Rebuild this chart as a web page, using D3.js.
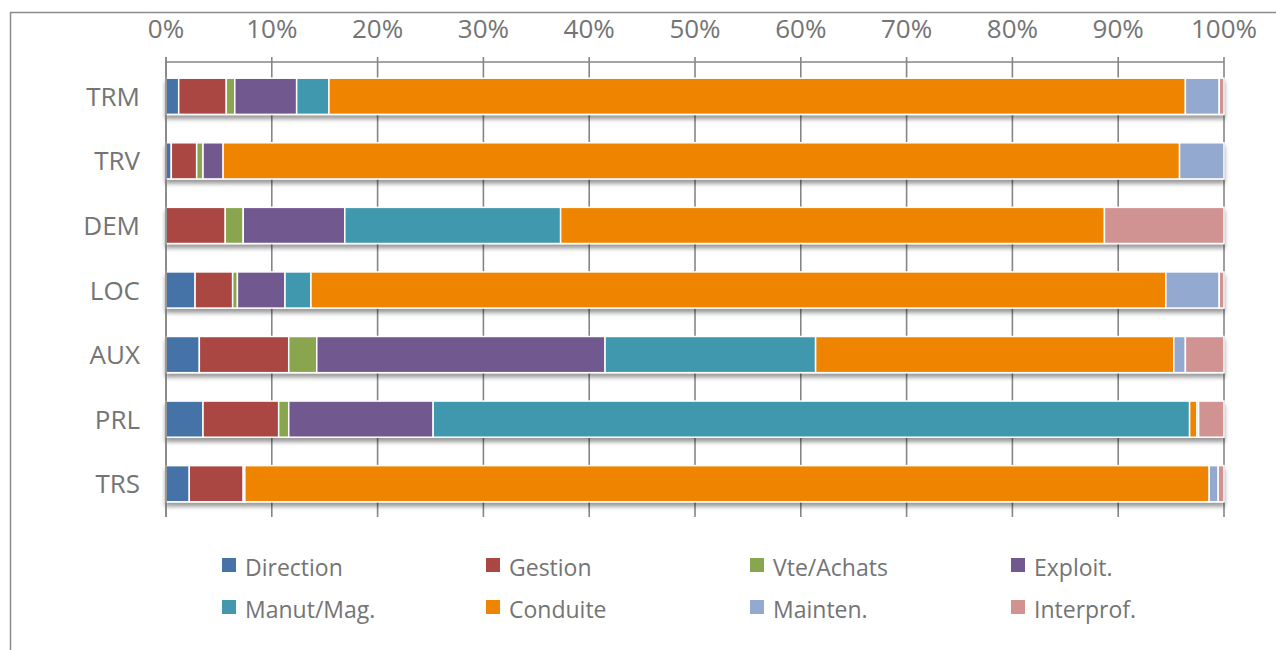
<!DOCTYPE html>
<html>
<head>
<meta charset="utf-8">
<script src="https://cdn.jsdelivr.net/npm/d3@7"></script>
<style>
  html, body { margin: 0; padding: 0; background: #fff; }
  svg { display: block; }
  text { font-family: "Open Sans", sans-serif; fill: #747474; }
</style>
</head>
<body>
<svg id="chart" width="1276" height="650"></svg>
<script>
const categories = ["TRM", "TRV", "DEM", "LOC", "AUX", "PRL", "TRS"];
const seriesNames = ["Direction", "Gestion", "Vte/Achats", "Exploit.", "Manut/Mag.", "Conduite", "Mainten.", "Interprof."];
const direction = [1.2, 0.5, 0.0, 2.75, 3.15, 3.5, 2.2];
const gestion   = [4.5, 2.4, 5.6, 3.55, 8.45, 7.15, 5.1];
const vteAchats = [0.8, 0.6, 1.7, 0.45, 2.65, 0.95, 0.15];
const exploit   = [5.85, 1.9, 9.6, 4.5, 27.25, 13.65, 0.0];
const manutMag  = [3.05, 0.0, 20.4, 2.45, 19.9, 71.5, 0.0];
const conduite  = [80.95, 90.4, 51.4, 80.8, 33.85, 0.7, 91.15];
const mainten   = [3.2, 4.2, 0.0, 5.05, 1.1, 0.15, 0.85];
const interprof = [0.45, 0.0, 11.3, 0.45, 3.65, 2.4, 0.55];
const tickValues = [0, 10, 20, 30, 40, 50, 60, 70, 80, 90, 100];
const colors = ["#4572A7", "#AA4643", "#89A54E", "#71588F", "#4198AF", "#EF8401", "#93A9CF", "#D19392"];

const seriesArrays = [direction, gestion, vteAchats, exploit, manutMag, conduite, mainten, interprof];
const rows = categories.map((c, i) => {
  const r = { cat: c };
  seriesNames.forEach((s, j) => r[s] = seriesArrays[j][i]);
  return r;
});

const svg = d3.select("#chart");

const defs = svg.append("defs");
const f = defs.append("filter").attr("id", "shadow")
  .attr("x", "-5%").attr("y", "-20%").attr("width", "110%").attr("height", "160%");
f.append("feDropShadow").attr("dx", 0).attr("dy", 4).attr("stdDeviation", 2.2)
  .attr("flood-color", "#000").attr("flood-opacity", 0.4);

svg.append("rect").attr("x", 10.5).attr("y", 12.5).attr("width", 1400).attr("height", 800)
  .attr("fill", "none").attr("stroke", "#8c8c8c").attr("stroke-width", 1.5);

const x = d3.scaleLinear().domain([0, 100]).range([166, 1224]);
const y = d3.scaleBand().domain(categories).range([64, 516]).paddingInner(0.44).paddingOuter(0.22);

svg.append("g").selectAll("line").data(tickValues).join("line")
  .attr("x1", d => x(d)).attr("x2", d => x(d))
  .attr("y1", 57).attr("y2", 517)
  .attr("stroke", "#868686").attr("stroke-width", 1.6);

svg.append("line").attr("x1", x(0)).attr("x2", x(100)).attr("y1", 62).attr("y2", 62)
  .attr("stroke", "#868686").attr("stroke-width", 1.6);

svg.append("g").selectAll("text").data(tickValues).join("text")
  .attr("x", d => x(d)).attr("y", 38)
  .attr("text-anchor", "middle")
  .style("font-size", "26px")
  .text(d => d + "%");

const stack = d3.stack().keys(seriesNames);
const layers = stack(rows);

const barsG = svg.append("g");
categories.forEach((c, ci) => {
  const g = barsG.append("g").attr("filter", "url(#shadow)");
  layers.forEach((layer, li) => {
    const d = layer[ci];
    const w = x(d[1]) - x(d[0]);
    if (w <= 0) return;
    g.append("rect")
      .attr("x", x(d[0])).attr("y", y(c))
      .attr("width", w).attr("height", y.bandwidth())
      .attr("fill", colors[li])
      .attr("stroke", "#fff").attr("stroke-width", 1.5);
  });
});

svg.append("line").attr("x1", x(0)).attr("x2", x(0)).attr("y1", 57).attr("y2", 517)
  .attr("stroke", "#868686").attr("stroke-width", 1.6);

svg.append("g").selectAll("text").data(categories).join("text")
  .attr("x", 140).attr("y", d => y(d) + y.bandwidth() / 2 + 9.5)
  .attr("text-anchor", "end")
  .style("font-size", "26px")
  .text(d => d);

const legX = [222, 486, 750, 1011];
const legY = [558, 600];
const leg = svg.append("g").selectAll("g").data(seriesNames).join("g")
  .attr("transform", (d, i) => `translate(${legX[i % 4]},${legY[Math.floor(i / 4)]})`);
leg.append("rect").attr("width", 14).attr("height", 14)
  .attr("fill", (d, i) => colors[i]);
leg.append("text").attr("x", 23).attr("y", 18)
  .style("font-size", "23px")
  .text(d => d);
</script>
</body>
</html>
